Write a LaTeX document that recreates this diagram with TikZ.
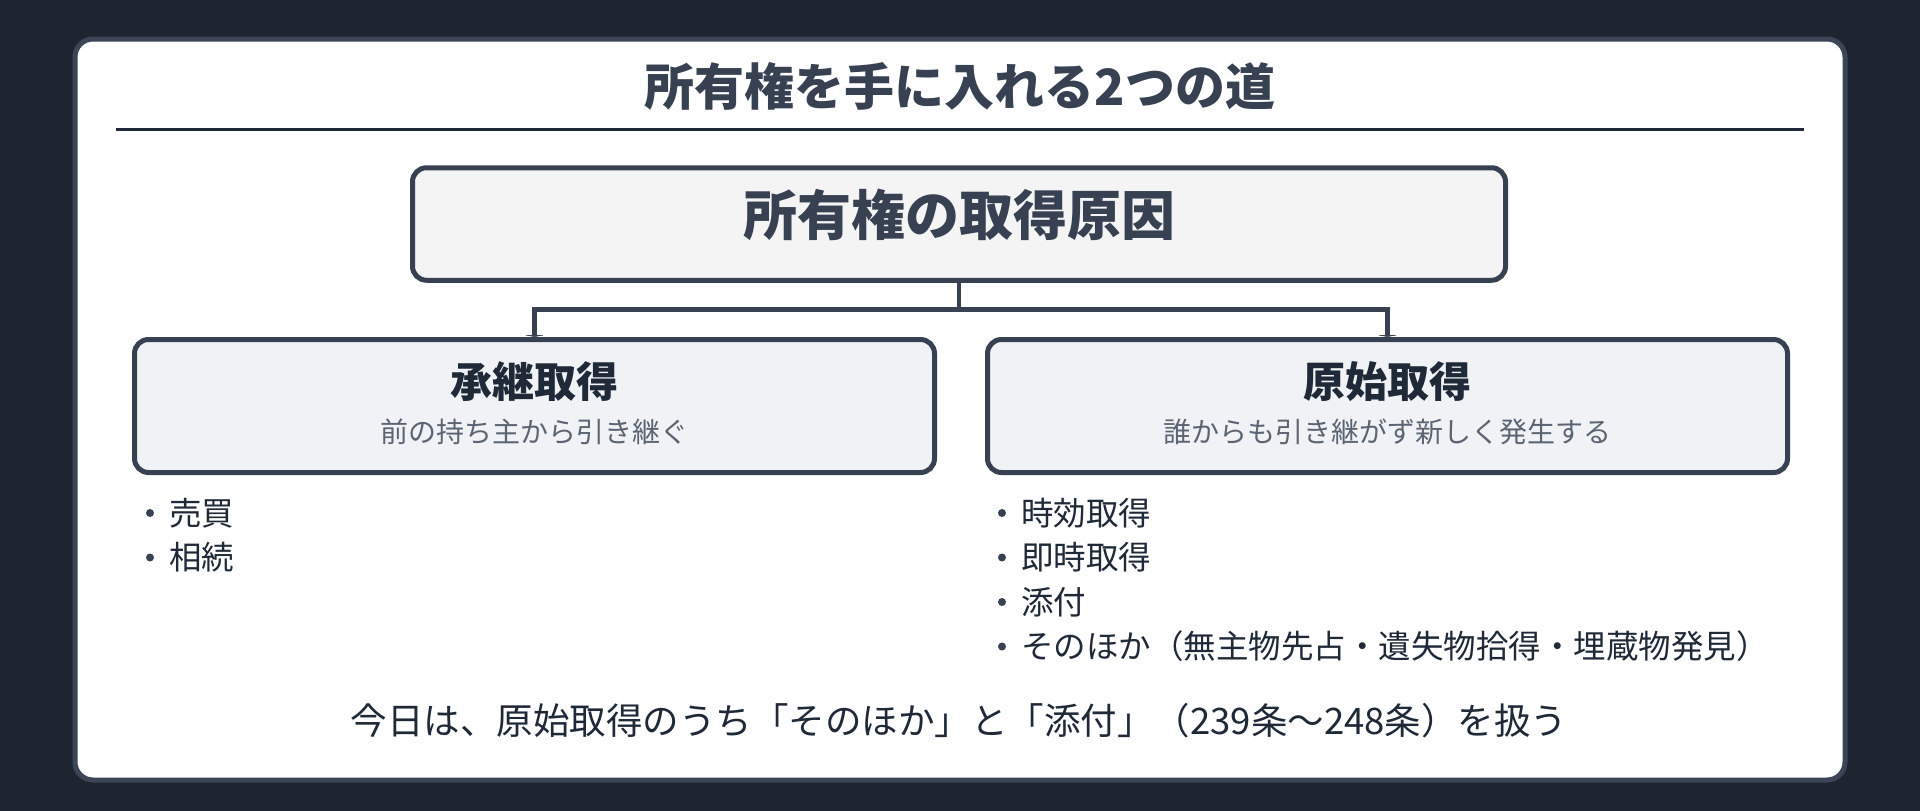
\documentclass[tikz,border=0pt]{standalone}
\usepackage{fontspec}
\setmainfont{Noto Sans CJK JP}
\usetikzlibrary{arrows.meta}

\definecolor{pagebg}{HTML}{1E2530}
\definecolor{panelline}{HTML}{3B4555}
\definecolor{inkgray}{HTML}{374151}
\definecolor{inkdark}{HTML}{1F2937}
\definecolor{subgray}{HTML}{5B6472}
\definecolor{causefill}{HTML}{F4F4F5}
\definecolor{branchfill}{HTML}{F0F2F5}

\begin{document}
\begin{tikzpicture}[
	x=1pt,
	y=-1pt,
	heading/.style={
		text=inkgray,
		font=\fontsize{50}{60}\selectfont\bfseries
	},
	causebox/.style={
		rectangle,
		draw=inkgray,
		line width=5pt,
		rounded corners=14pt,
		fill=causefill,
		minimum width=1093pt,
		minimum height=112.5pt
	},
	causetext/.style={
		text=inkgray,
		font=\fontsize{54}{64}\selectfont\bfseries
	},
	branchbox/.style={
		rectangle,
		draw=inkgray,
		line width=5pt,
		rounded corners=14pt,
		fill=branchfill,
		minimum width=800pt,
		minimum height=133pt
	},
	branchhead/.style={
		text=inkdark,
		font=\fontsize{42}{50}\selectfont\bfseries
	},
	branchsub/.style={
		text=subgray,
		font=\fontsize{28}{34}\selectfont
	},
	listitem/.style={
		anchor=west,
		inner sep=0pt,
		text=inkdark,
		font=\fontsize{32.5}{40}\selectfont
	},
	bulletdot/.style={fill=inkgray},
	note/.style={
		text=inkdark,
		font=\fontsize{36.5}{44}\selectfont
	},
	treelink/.style={
		draw=inkgray,
		line width=4.5pt,
		-{Latex[length=2pt,width=25pt]}
	},
]

% Background and panel
\fill[pagebg] (0,0) rectangle (1920,811);
\draw[panelline, fill=white, line width=5pt, rounded corners=18pt] (75,39) rectangle (1845,780);

% Title
\node[heading] (title) at (960,86) {所有権を手に入れる2つの道};
\draw[inkdark, line width=3pt] (116,129) -- (1804,129);

% Cause
\node[causebox] (cause) at (959,224) {};
\node[causetext] (causelabel) at (959,215) {所有権の取得原因};

% Branches
\node[branchbox] (succ) at (534.5,406) {};
\node[branchhead] (succhead) at (534.5,382) {承継取得};
\node[branchsub] (succsub) at (534.5,432) {前の持ち主から引き継ぐ};

\node[branchbox] (orig) at (1387.5,406) {};
\node[branchhead] (orighead) at (1387.5,382) {原始取得};
\node[branchsub] (origsub) at (1387.5,432) {誰からも引き継がず新しく発生する};

% Links
\coordinate (fork) at (959,309.5);
\draw[treelink] (cause.south) -- (fork) -| (succ.north);
\draw[treelink] (fork) -| (orig.north);

% Lists
\foreach \txt [count=\i] in {売買, 相続} {
	\node[listitem] (succitem\i) at (169,{513+44.5*(\i-1)}) {\txt};
	\fill[bulletdot] ([xshift=-19pt]succitem\i.west) circle (4pt);
}
\foreach \txt [count=\i] in {時効取得, 即時取得, 添付, そのほか（無主物先占・遺失物拾得・埋蔵物発見）} {
	\node[listitem] (origitem\i) at (1021,{513+44.5*(\i-1)}) {\txt};
	\fill[bulletdot] ([xshift=-19pt]origitem\i.west) circle (4pt);
}

% Note
\node[note] (today) at (959,721) {今日は、原始取得のうち「そのほか」と「添付」（239条〜248条）を扱う};

\end{tikzpicture}
\end{document}
